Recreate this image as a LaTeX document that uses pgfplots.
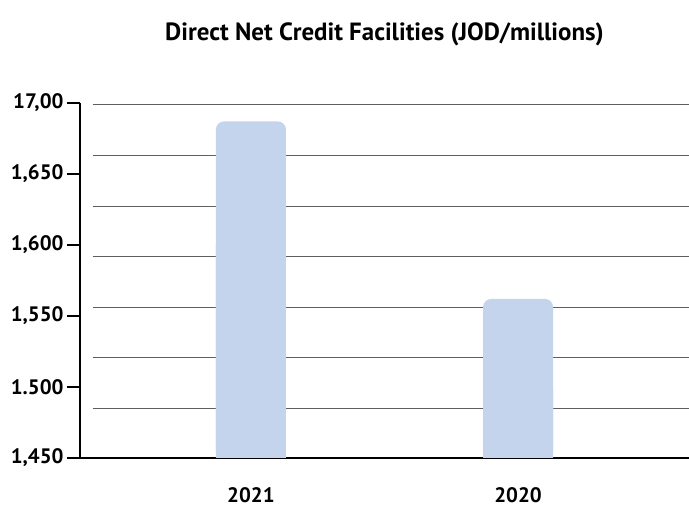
\documentclass[border=0pt]{standalone}
\usepackage{fontspec}
\setmainfont{PT Sans}
\usepackage{pgfplots}
\pgfplotsset{compat=1.18}
\definecolor{barblue}{RGB}{196,212,236}
\definecolor{gridgray}{RGB}{95,95,95}
\begin{document}
\begin{tikzpicture}
\path[use as bounding box] (-80bp,-49bp) rectangle (609bp,458bp);
\begin{axis}[
 at={(0,0)}, anchor=south west,
 scale only axis, width=609bp, height=355bp,
 xmin=-0.64, xmax=1.64, ymin=1450, ymax=1700,
 axis x line*=bottom, axis y line*=left,
 axis line style={black, line width=1.4bp, -},
 xtick={0,1}, xticklabels={2021,2020},
 ytick={1450,1500,1550,1600,1650,1700},
 yticklabels={{1,450},{1.500},{1,550},{1,600},{1,650},{17,00}},
 tick align=outside,
 ytick style={black, line width=1.4bp},
 major tick length=13bp,
 xtick style={draw=none},
 tick label style={font=\fontsize{21}{24}\selectfont\bfseries},
 xticklabel style={anchor=center, inner sep=0pt, yshift=-24bp},
 clip=true,
 title={Direct Net Credit Facilities (JOD/millions)},
 title style={font=\fontsize{25}{28}\selectfont\bfseries, at={(axis description cs:0.5,1)}, anchor=center, yshift=63bp},
]
\pgfplotsinvokeforeach{1485,1521,1556,1592,1627,1663,1699}{
  \addplot[gridgray, line width=0.8bp, no marks] coordinates {(-0.592,#1) (1.7,#1)};
}
\addplot[ybar, bar width=70bp, fill=barblue, draw=none, rounded corners=8bp] coordinates {(0,1687) (1,1562)};
\addplot[ybar, bar width=70bp, fill=barblue, draw=none] coordinates {(0,1600) (1,1500)};
\end{axis}
\end{tikzpicture}
\end{document}
